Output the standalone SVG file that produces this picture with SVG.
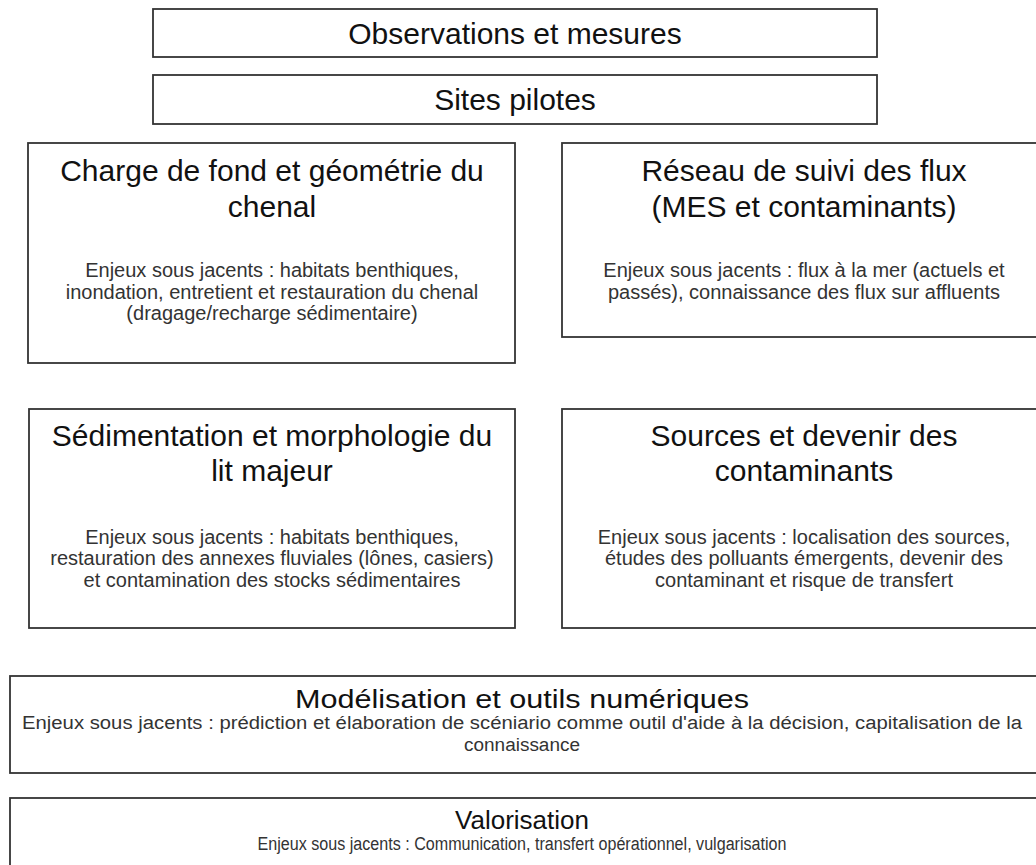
<svg xmlns="http://www.w3.org/2000/svg" width="1036" height="865" viewBox="0 0 1036 865">
<style>
.box{fill:#fff;stroke:#333;stroke-width:1.8}
.t{font-family:"Liberation Sans",Arial,sans-serif;font-size:30px;fill:#111;text-anchor:middle}
.s{font-family:"Liberation Sans",Arial,sans-serif;font-size:20px;fill:#333;text-anchor:middle}
.tb{font-family:"Liberation Sans",Arial,sans-serif;font-size:26px;fill:#111;text-anchor:middle}
.sb{font-family:"Liberation Sans",Arial,sans-serif;font-size:18px;fill:#333;text-anchor:middle}
</style>
<rect width="1036" height="865" fill="#fff"/>
<g id="obs">
<rect class="box" x="153" y="9" width="724" height="48"/>
<text class="t" x="515" y="44">Observations et mesures</text>
</g>
<g id="sites">
<rect class="box" x="153" y="75" width="724" height="49"/>
<text class="t" x="515" y="110">Sites pilotes</text>
</g>
<g id="charge">
<rect class="box" x="28" y="143" width="487" height="220"/>
<text class="t" x="272" y="181">Charge de fond et géométrie du</text>
<text class="t" x="272" y="217">chenal</text>
<text class="s" x="272" y="277">Enjeux sous jacents : habitats benthiques,</text>
<text class="s" x="272" y="299">inondation, entretient et restauration du chenal</text>
<text class="s" x="272" y="320">(dragage/recharge sédimentaire)</text>
</g>
<g id="reseau">
<rect class="box" x="562" y="143" width="484" height="194"/>
<text class="t" x="804" y="181">Réseau de suivi des flux</text>
<text class="t" x="804" y="217">(MES et contaminants)</text>
<text class="s" x="804" y="277">Enjeux sous jacents : flux à la mer (actuels et</text>
<text class="s" x="804" y="299">passés), connaissance des flux sur affluents</text>
</g>
<g id="sedim">
<rect class="box" x="29" y="409" width="486" height="219"/>
<text class="t" x="272" y="446">Sédimentation et morphologie du</text>
<text class="t" x="272" y="481">lit majeur</text>
<text class="s" x="272" y="544">Enjeux sous jacents : habitats benthiques,</text>
<text class="s" x="272" y="565">restauration des annexes fluviales (lônes, casiers)</text>
<text class="s" x="272" y="587">et contamination des stocks sédimentaires</text>
</g>
<g id="sources">
<rect class="box" x="562" y="409" width="484" height="219"/>
<text class="t" x="804" y="446">Sources et devenir des</text>
<text class="t" x="804" y="481">contaminants</text>
<text class="s" x="804" y="544">Enjeux sous jacents : localisation des sources,</text>
<text class="s" x="804" y="565">études des polluants émergents, devenir des</text>
<text class="s" x="804" y="587">contaminant et risque de transfert</text>
</g>
<g id="model">
<rect class="box" x="10" y="676" width="1040" height="97"/>
<text class="tb" x="522" y="708" textLength="454" lengthAdjust="spacingAndGlyphs">Modélisation et outils numériques</text>
<text class="sb" x="522" y="729" textLength="1000" lengthAdjust="spacingAndGlyphs">Enjeux sous jacents : prédiction et élaboration de scéniario comme outil d'aide à la décision, capitalisation de la</text>
<text class="sb" x="522" y="751" textLength="116" lengthAdjust="spacingAndGlyphs">connaissance</text>
</g>
<g id="valor">
<rect class="box" x="10" y="798" width="1040" height="80"/>
<text class="tb" x="522" y="829">Valorisation</text>
<text class="sb" x="522" y="850" textLength="529" lengthAdjust="spacingAndGlyphs">Enjeux sous jacents : Communication, transfert opérationnel, vulgarisation</text>
</g>
<g id="connectors"></g>
</svg>
